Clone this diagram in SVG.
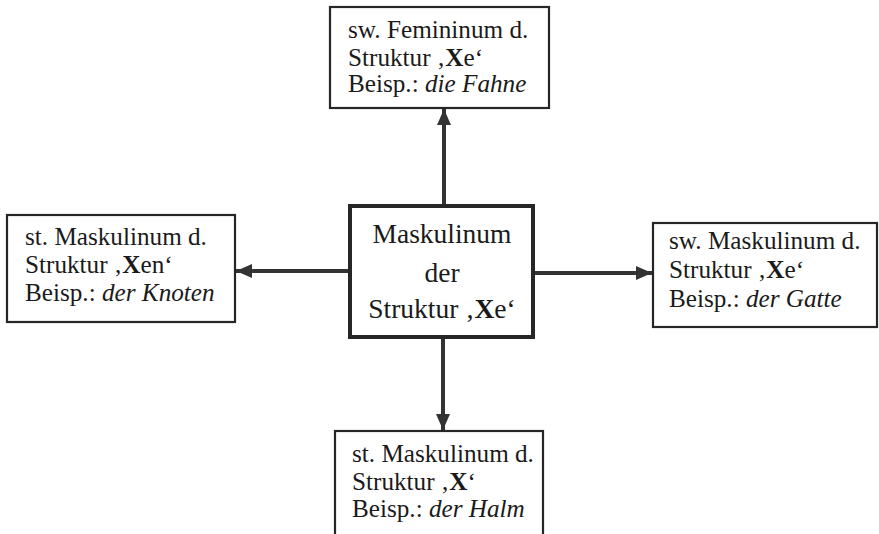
<svg xmlns="http://www.w3.org/2000/svg" width="879" height="534" viewBox="0 0 879 534">
<defs>
<style>
.box{fill:#fff;stroke:#262626;stroke-width:2.2}
.main{fill:#fff;stroke:#262626;stroke-width:4}
.t{font-family:"Liberation Serif","Times New Roman",serif;font-size:25.2px;fill:#1a1a1a}
.c{font-family:"Liberation Serif","Times New Roman",serif;font-size:27.5px;fill:#1a1a1a;text-anchor:middle}
.b{font-weight:bold}
.i{font-style:italic}
.con{stroke:#333;stroke-width:4;fill:none}
</style>
<marker id="ah" viewBox="0 0 16 14" refX="16" refY="7" markerWidth="16" markerHeight="14" markerUnits="userSpaceOnUse" orient="auto">
<path d="M0,0 L16,7 L0,14 Z" fill="#333"/>
</marker>
</defs>
<rect width="879" height="534" fill="#fff"/>
<g id="connectors">
<line class="con" x1="444" y1="206" x2="444" y2="109" marker-end="url(#ah)"/>
<line class="con" x1="443" y1="337" x2="443" y2="430" marker-end="url(#ah)"/>
<line class="con" x1="350" y1="271" x2="236" y2="271" marker-end="url(#ah)"/>
<line class="con" x1="533" y1="273" x2="652" y2="273" marker-end="url(#ah)"/>
</g>
<g id="center">
<rect class="main" x="350" y="206" width="183" height="131"/>
<text class="c" x="442" y="243">Maskulinum</text>
<text class="c" x="442" y="282">der</text>
<text class="c" x="442" y="318">Struktur ‚<tspan class="b">X</tspan>e‘</text>
</g>
<g id="top">
<rect class="box" x="330" y="7" width="219" height="101"/>
<text class="t" x="348" y="38">sw. Femininum d.</text>
<text class="t" x="348" y="66">Struktur ‚<tspan class="b">X</tspan>e‘</text>
<text class="t" x="348" y="92">Beisp.: <tspan class="i">die Fahne</tspan></text>
</g>
<g id="left">
<rect class="box" x="7" y="215" width="228" height="107"/>
<text class="t" x="25" y="245">st. Maskulinum d.</text>
<text class="t" x="25" y="273">Struktur ‚<tspan class="b">X</tspan>en‘</text>
<text class="t" x="25" y="301">Beisp.: <tspan class="i">der Knoten</tspan></text>
</g>
<g id="right">
<rect class="box" x="653" y="223" width="224" height="104"/>
<text class="t" x="669" y="249">sw. Maskulinum d.</text>
<text class="t" x="669" y="278">Struktur ‚<tspan class="b">X</tspan>e‘</text>
<text class="t" x="669" y="307">Beisp.: <tspan class="i">der Gatte</tspan></text>
</g>
<g id="bottom">
<rect class="box" x="335" y="431" width="208" height="110"/>
<text class="t" x="352" y="462">st. Maskulinum d.</text>
<text class="t" x="352" y="490">Struktur ‚<tspan class="b">X</tspan>‘</text>
<text class="t" x="352" y="517">Beisp.: <tspan class="i">der Halm</tspan></text>
</g>
</svg>
